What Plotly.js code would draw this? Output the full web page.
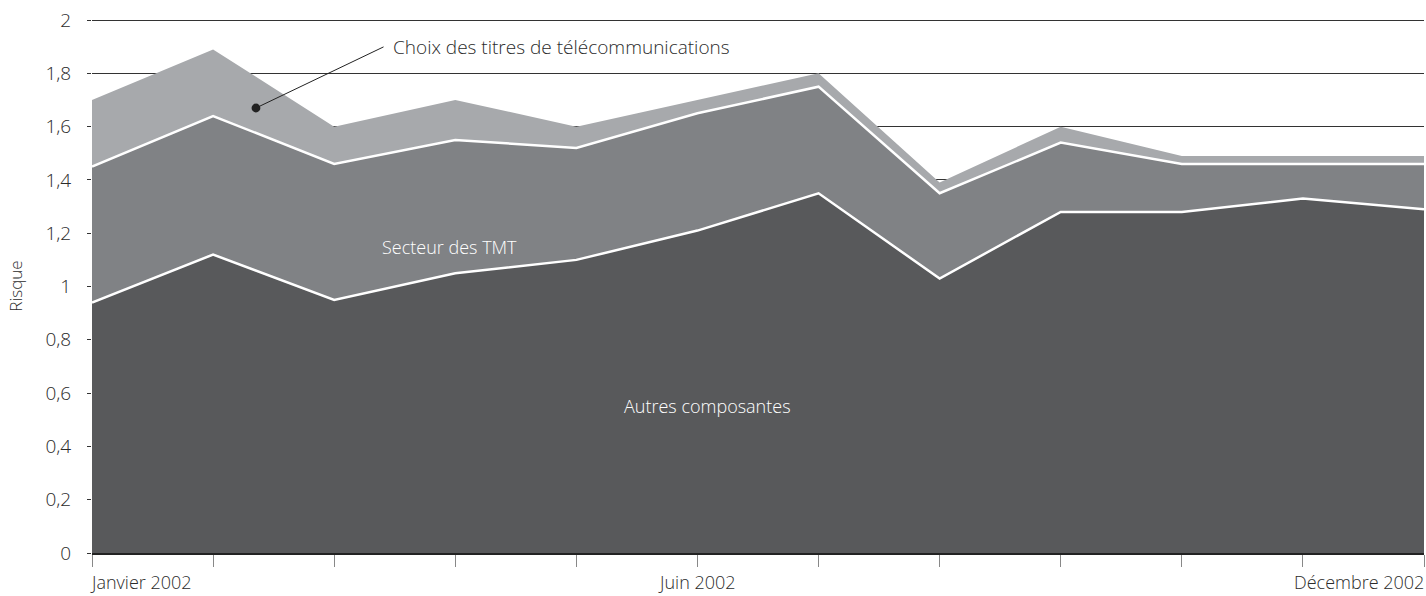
<!DOCTYPE html>
<html>
<head>
<meta charset="utf-8">
<script src="https://cdn.plot.ly/plotly-3.0.1.min.js"></script>
<style>
  html, body { margin: 0; padding: 0; background: #fff; }
  #chart { width: 1426px; height: 596px; }
</style>
</head>
<body>
<div id="chart"></div>
<script>
const months = ['Janvier 2002', 'Février 2002', 'Mars 2002', 'Avril 2002', 'Mai 2002', 'Juin 2002',
    'Juillet 2002', 'Août 2002', 'Septembre 2002', 'Octobre 2002', 'Novembre 2002', 'Décembre 2002'];

// risk components, stacked bottom to top
const autresComposantes = [0.94, 1.12, 0.95, 1.05, 1.10, 1.21, 1.35, 1.03, 1.28, 1.28, 1.33, 1.29];
const secteurTMT        = [0.51, 0.52, 0.51, 0.50, 0.42, 0.44, 0.40, 0.32, 0.26, 0.18, 0.13, 0.17];
const choixTelecoms     = [0.25, 0.25, 0.14, 0.15, 0.08, 0.05, 0.05, 0.04, 0.06, 0.03, 0.03, 0.03];

const FONT = 'Open Sans, Noto Sans, sans-serif';

function layer(name, values, fill, lineWidth) {
    return {
        x: months, y: values, name: name,
        type: 'scatter', mode: 'lines', stackgroup: 'risk',
        fillcolor: fill,
        line: { color: lineWidth ? '#ffffff' : fill, width: lineWidth || 0 },
        hoverinfo: 'skip'
    };
}

const traces = [
    layer('Autres composantes', autresComposantes, '#58595b', 2.5),
    layer('Secteur des TMT', secteurTMT, '#808285', 2.5),
    layer('Choix des titres de télécommunications', choixTelecoms, '#a7a9ac', 0)
];

// x labels sit under the first, middle and last month
const dateLabel = (i, anchor, dx) => ({
    x: months[i], y: 0, xref: 'x', yref: 'paper', xanchor: anchor, yanchor: 'middle',
    xshift: dx, yshift: -29, text: months[i], showarrow: false, font: { size: 18 }
});

const layout = {
    width: 1426, height: 596,
    paper_bgcolor: '#fff', plot_bgcolor: '#fff',
    margin: { t: 19, b: 43, l: 92, r: 2 },
    separators: ', ',
    showlegend: false,
    font: { family: FONT, size: 19, color: '#2b2b2b', weight: 300 },
    xaxis: {
        type: 'category', range: [0, 11],
        showgrid: false, zeroline: false,
        showline: true, linecolor: '#222', linewidth: 2,
        ticks: 'outside', ticklen: 12, tickcolor: '#888', tickwidth: 1,
        showticklabels: false
    },
    yaxis: {
        range: [0, 2.004], tickvals: [0, 0.2, 0.4, 0.6, 0.8, 1, 1.2, 1.4, 1.6, 1.8, 2],
        tickformat: '.1~f',
        showgrid: true, gridcolor: '#333', gridwidth: 1,
        zeroline: false, showline: false,
        ticks: 'outside', ticklen: 4, tickcolor: '#333',
        ticklabelstandoff: 12,
        tickfont: { size: 19, color: '#2b2b2b', weight: 300 },
        title: { text: 'Risque', font: { size: 17, color: '#2b2b2b', weight: 300 }, standoff: 18 }
    },
    annotations: [
        dateLabel(0, 'left', -4),
        dateLabel(5, 'center', 0),
        dateLabel(11, 'right', 2),
        { x: 2.47, y: 1.9, xref: 'x', yref: 'y', xanchor: 'left', yanchor: 'middle',
          text: 'Choix des titres de télécommunications', showarrow: false },
        { x: 1.354, y: 1.67, xref: 'x', yref: 'y', axref: 'x', ayref: 'y',
          ax: 2.42, ay: 1.902, text: '', showarrow: true,
          arrowhead: 6, arrowsize: 2.2, arrowwidth: 1, arrowcolor: '#222',
          startstandoff: 0, standoff: 0 },
        { x: 2.95, y: 1.15, xref: 'x', yref: 'y', text: 'Secteur des TMT', showarrow: false,
          font: { color: '#fff', size: 18, weight: 300 } },
        { x: 5.08, y: 0.55, xref: 'x', yref: 'y', text: 'Autres composantes', showarrow: false,
          font: { color: '#fff', size: 18, weight: 300 } }
    ]
};

Plotly.newPlot('chart', traces, layout, { displayModeBar: false, staticPlot: true });
</script>
</body>
</html>
